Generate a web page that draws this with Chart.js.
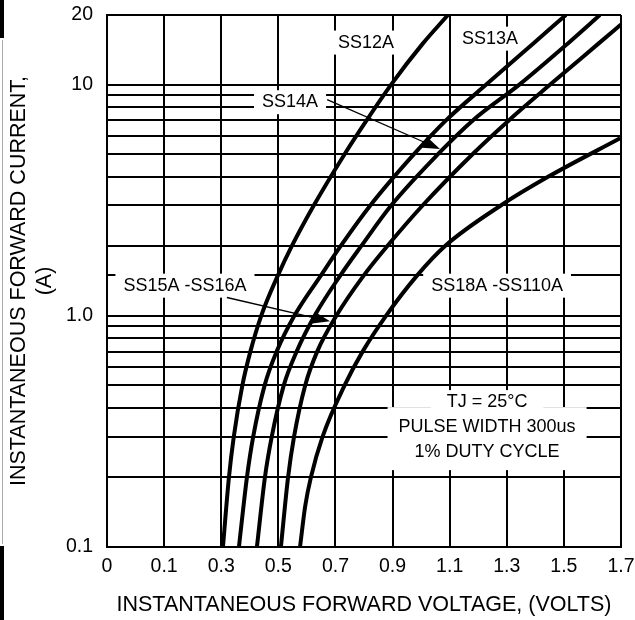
<!DOCTYPE html>
<html>
<head>
<meta charset="utf-8">
<title>Forward characteristics</title>
<script src="https://cdn.jsdelivr.net/npm/chart.js@4/dist/chart.umd.min.js"></script>
<style>
  html, body { margin: 0; padding: 0; background: #fff; }
</style>
</head>
<body>
<canvas id="chart" width="635" height="620"></canvas>
<script>
// instantaneous forward voltage (V) vs forward current (A)
var ss12aVolts = [0.306, 0.327, 0.344, 0.374, 0.402, 0.440, 0.499, 0.547, 0.624, 0.732, 0.809, 0.895, 1.005, 1.094];
var ss12aAmps  = [0.1, 0.2, 0.3, 0.5, 0.7, 1.0, 1.5, 2, 3, 5, 7, 10, 15, 20];

var ss13aVolts = [0.362, 0.390, 0.412, 0.452, 0.494, 0.556, 0.650, 0.718, 0.822, 0.975, 1.087, 1.228, 1.391, 1.507];
var ss13aAmps  = [0.1, 0.2, 0.3, 0.5, 0.7, 1.0, 1.5, 2, 3, 5, 7, 10, 15, 20];

var ss14aVolts = [0.425, 0.453, 0.477, 0.519, 0.564, 0.627, 0.718, 0.790, 0.895, 1.059, 1.181, 1.344, 1.512, 1.626];
var ss14aAmps  = [0.1, 0.2, 0.3, 0.5, 0.7, 1.0, 1.5, 2, 3, 5, 7, 10, 15, 20];

var ss15aVolts = [0.509, 0.534, 0.555, 0.594, 0.636, 0.703, 0.800, 0.881, 1.005, 1.180, 1.307, 1.452, 1.620, 1.700];
var ss15aAmps  = [0.1, 0.2, 0.3, 0.5, 0.7, 1.0, 1.5, 2, 3, 5, 7, 10, 15, 18.2];

var ss18aVolts = [0.576, 0.594, 0.614, 0.655, 0.732, 0.795, 0.877, 0.987, 1.083, 1.279, 1.446, 1.697];
var ss18aAmps  = [0.1, 0.15, 0.2, 0.3, 0.5, 0.7, 1.0, 1.5, 2, 3, 4, 5.86];

var xTickLabels = ['0', '0.1', '0.3', '0.5', '0.7', '0.9', '1.1', '1.3', '1.5', '1.7'];
var yGridValues = [0.1, 0.2, 0.3, 0.4, 0.5, 0.6, 0.7, 0.8, 0.9, 1, 1.5, 2, 3, 4, 5, 6, 7, 8, 9, 10, 20];
var yLabelValues = [0.1, 1, 10, 20];
var yLabelText = ['0.1', '1.0', '10', '20'];

// text on the plot, placed in volts / amps
var curveLabels = [
  { text: 'SS12A', v: 0.807, a: 15.2 },
  { text: 'SS13A', v: 1.241, a: 15.8 },
  { text: 'SS14A', v: 0.541, a: 8.39 },
  { text: 'SS15A -SS16A', v: 0.173, a: 1.35 },
  { text: 'SS18A -SS110A', v: 1.266, a: 1.35 }
];
var arrows = [
  { from: [0.671, 8.61], to: [1.066, 5.26] },
  { from: [0.320, 1.2], to: [0.681, 0.946] }
];
var noteLines = ['TJ = 25\u00B0C', 'PULSE WIDTH 300us', '1% DUTY CYCLE'];
var noteAt = [1.231, 0.33];

var FONT = '"Liberation Sans", Arial, Helvetica, sans-serif';
Chart.defaults.font.family = FONT;
Chart.defaults.color = '#000';

function points(volts, amps) {
  return volts.map(function (v, i) { return { x: v, y: amps[i] }; });
}

function curve(label, volts, amps) {
  return {
    label: label,
    data: points(volts, amps),
    borderColor: '#000',
    borderWidth: 4,
    pointRadius: 0,
    fill: false,
    cubicInterpolationMode: 'monotone'
  };
}

var notesPlugin = {
  id: 'notes',
  beforeDatasetsDraw: function (chart) {
    var ctx = chart.ctx;
    var xs = chart.scales.x, ys = chart.scales.y;
    ctx.save();
    ctx.font = '18px ' + FONT;
    ctx.textAlign = 'center';
    ctx.textBaseline = 'middle';

    curveLabels.forEach(function (l) {
      var px = xs.getPixelForValue(l.v);
      var py = ys.getPixelForValue(l.a);
      var w = ctx.measureText(l.text).width;
      ctx.fillStyle = '#fff';
      ctx.fillRect(px - w / 2 - 8, py - 12, w + 16, 24);
      ctx.fillStyle = '#000';
      ctx.fillText(l.text, px, py);
    });

    // test conditions block
    var bx = xs.getPixelForValue(noteAt[0]);
    var by = ys.getPixelForValue(noteAt[1]);
    var w1 = ctx.measureText(noteLines[0]).width + 32;
    var w2 = Math.max(ctx.measureText(noteLines[1]).width, ctx.measureText(noteLines[2]).width) + 22;
    ctx.fillStyle = '#fff';
    ctx.fillRect(bx - w1 / 2, by - 37, w1, 18);
    ctx.fillRect(bx - w2 / 2, by - 20, w2, 63);
    ctx.fillStyle = '#000';
    for (var i = 0; i < noteLines.length; i++) {
      ctx.fillText(noteLines[i], bx, by + (i - 1) * 25);
    }
    ctx.restore();
  },
  afterDatasetsDraw: function (chart) {
    var ctx = chart.ctx;
    var xs = chart.scales.x, ys = chart.scales.y;
    ctx.save();
    ctx.strokeStyle = '#000';
    ctx.fillStyle = '#000';
    ctx.lineWidth = 1.3;
    arrows.forEach(function (a) {
      var x0 = xs.getPixelForValue(a.from[0]), y0 = ys.getPixelForValue(a.from[1]);
      var x1 = xs.getPixelForValue(a.to[0]), y1 = ys.getPixelForValue(a.to[1]);
      var ang = Math.atan2(y1 - y0, x1 - x0);
      var len = 17, half = 6;
      var bx = x1 - len * Math.cos(ang), by = y1 - len * Math.sin(ang);
      ctx.beginPath();
      ctx.moveTo(x0, y0);
      ctx.lineTo(bx, by);
      ctx.stroke();
      ctx.beginPath();
      ctx.moveTo(x1, y1);
      ctx.lineTo(bx + half * Math.sin(ang), by - half * Math.cos(ang));
      ctx.lineTo(bx - half * Math.sin(ang), by + half * Math.cos(ang));
      ctx.closePath();
      ctx.fill();
    });
    ctx.restore();
  },
  afterDraw: function (chart) {
    // dark edge of the scanned page on the left
    var ctx = chart.ctx;
    ctx.save();
    ctx.fillStyle = '#000';
    ctx.fillRect(0, 0, 4, 38);
    ctx.fillRect(0, 546, 4, 74);
    ctx.fillStyle = '#aaa';
    ctx.fillRect(2, 40, 1, 504);
    ctx.restore();
  }
};

var ctx = document.getElementById('chart');
var chart = new Chart(ctx, {
  type: 'line',
  data: {
    datasets: [
      curve('SS12A', ss12aVolts, ss12aAmps),
      curve('SS13A', ss13aVolts, ss13aAmps),
      curve('SS14A', ss14aVolts, ss14aAmps),
      curve('SS15A -SS16A', ss15aVolts, ss15aAmps),
      curve('SS18A -SS110A', ss18aVolts, ss18aAmps)
    ]
  },
  options: {
    responsive: false,
    animation: false,
    layout: { padding: { top: 15, right: 14, bottom: 0, left: 0 } },
    plugins: {
      legend: { display: false },
      tooltip: { enabled: false }
    },
    scales: {
      x: {
        type: 'linear',
        min: -0.1,
        max: 1.7,
        ticks: {
          stepSize: 0.2,
          padding: 8,
          font: { size: 19.5 },
          color: '#000',
          callback: function (value, index) { return xTickLabels[index]; }
        },
        grid: { color: '#000', lineWidth: 2, drawTicks: false },
        border: { color: '#000', width: 2 },
        title: {
          display: true,
          text: 'INSTANTANEOUS FORWARD VOLTAGE, (VOLTS)',
          font: { size: 21.5 },
          color: '#000',
          padding: { top: 0, bottom: 2 }
        },
        afterFit: function (scale) {
          scale.height = 73;
          scale.paddingLeft = 0;
          scale.paddingRight = 0;
        }
      },
      y: {
        type: 'logarithmic',
        min: 0.1,
        max: 20,
        afterBuildTicks: function (scale) {
          scale.ticks = yGridValues.map(function (v) { return { value: v }; });
        },
        ticks: {
          autoSkip: false,
          padding: 14,
          font: { size: 19.5 },
          color: '#000',
          callback: function (value) {
            var k = yLabelValues.indexOf(value);
            return k < 0 ? '' : yLabelText[k];
          }
        },
        grid: { color: '#000', lineWidth: 2, drawTicks: false },
        border: { color: '#000', width: 2 },
        title: {
          display: true,
          text: ['INSTANTANEOUS FORWARD CURRENT,', '(A)'],
          font: { size: 21.5 },
          color: '#000',
          padding: { top: 6, bottom: 0 }
        },
        afterFit: function (scale) {
          scale.width = 107;
          scale.paddingTop = 0;
          scale.paddingBottom = 0;
        }
      }
    }
  },
  plugins: [notesPlugin]
});
</script>
</body>
</html>
